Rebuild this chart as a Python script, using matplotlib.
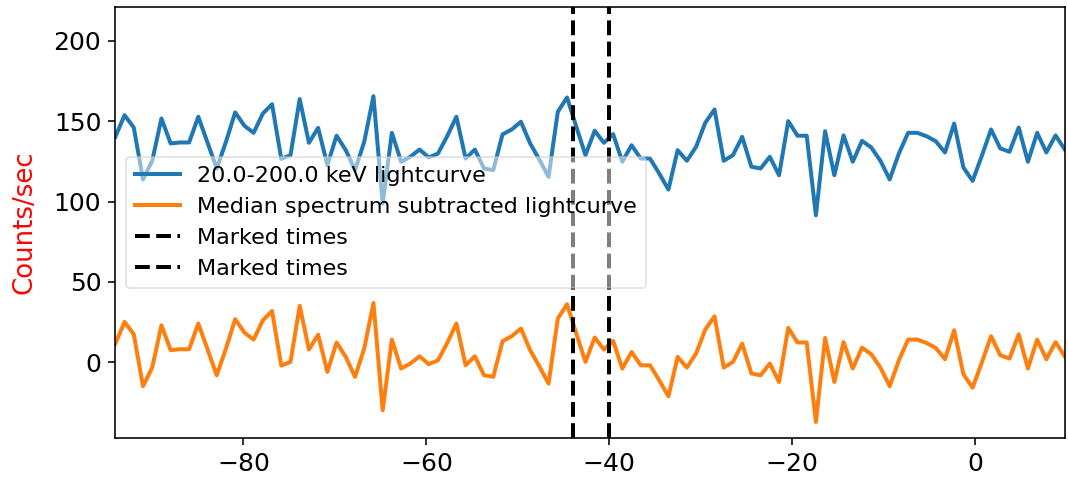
import numpy as np
import matplotlib
matplotlib.use("Agg")
import matplotlib.pyplot as plt

# time bins (s)
t_start = -94.0
t_step = 1.0078
n_bins = 104

lightcurve = [140.3, 153.8, 146.1, 113.8, 125.4, 151.7, 136.2, 136.8, 136.8, 152.8,
              136.7, 120.6, 137.2, 155.5, 147.2, 142.8, 154.8, 160.6, 126.6, 128.9,
              163.8, 136.6, 145.9, 122.7, 141.0, 132.0, 119.6, 137.2, 165.6, 98.8,
              142.8, 124.8, 127.9, 132.4, 127.5, 129.9, 140.7, 152.8, 126.8, 132.4,
              120.6, 119.6, 141.8, 144.9, 149.7, 136.2, 126.1, 115.4, 155.9, 164.8,
              146.7, 128.9, 144.1, 136.6, 142.0, 124.8, 135.1, 126.8, 126.8, 117.5,
              107.5, 132.0, 125.4, 134.1, 149.1, 157.3, 125.4, 128.9, 140.3, 121.7,
              120.6, 127.9, 116.4, 150.1, 141.0, 141.0, 91.5, 143.8, 116.4, 141.2,
              124.8, 137.8, 133.7, 125.4, 113.8, 129.9, 142.8, 142.8, 140.7, 137.6,
              130.6, 148.6, 121.2, 112.9, 128.5, 144.9, 133.1, 131.0, 146.1, 124.8,
              142.8, 130.6, 141.2, 132.4]

subtracted = [11.6, 25.1, 17.4, -14.9, -3.3, 23.0, 7.5, 8.1, 8.1, 24.1,
              8.0, -8.1, 8.5, 26.8, 18.5, 14.1, 26.1, 31.9, -2.1, 0.2,
              35.1, 7.9, 17.2, -6.0, 12.3, 3.3, -9.1, 8.5, 36.9, -29.9,
              14.1, -3.9, -0.8, 3.7, -1.2, 1.2, 12.0, 24.1, -1.9, 3.7,
              -8.1, -9.1, 13.1, 16.2, 21.0, 7.5, -2.6, -13.3, 27.2, 36.1,
              18.0, 0.2, 15.4, 7.9, 13.3, -3.9, 6.4, -1.9, -1.9, -11.2,
              -21.2, 3.3, -3.3, 5.4, 20.4, 28.6, -3.3, 0.2, 11.6, -7.0,
              -8.1, -0.8, -12.3, 21.4, 12.3, 12.3, -37.2, 15.1, -12.3, 12.5,
              -3.9, 9.1, 5.0, -3.3, -14.9, 1.2, 14.1, 14.1, 12.0, 8.9,
              1.9, 19.9, -7.5, -15.8, -0.2, 16.2, 4.4, 2.3, 17.4, -3.9,
              14.1, 1.9, 12.5, 3.7]

marked_times = [-44.0, -40.0]

labels = ["20.0-200.0 keV lightcurve", "Median spectrum subtracted lightcurve",
          "Marked times", "Marked times"]

times = t_start + t_step * np.arange(n_bins)

plt.rcParams['font.size'] = 12.5
fig = plt.figure(figsize=(1068 / 144, 480 / 144), dpi=144)
ax = fig.add_axes([0.108, 0.088, 0.889, 0.897])

ax.plot(times, lightcurve, color='#1f77b4', linewidth=2.0, label=labels[0])
ax.plot(times, subtracted, color='#ff7f0e', linewidth=2.0, label=labels[1])
for mt, lab in zip(marked_times, labels[2:]):
    ax.axvline(mt, color='k', linestyle='--', linewidth=2.0, label=lab)

ax.set_xlim(times[0], times[-1])
ax.set_ylim(-47, 221)
ax.set_yticks([0, 50, 100, 150, 200])
ax.set_xticks([-80, -60, -40, -20, 0])
ax.set_ylabel("Counts/sec", color='red', fontsize=13, labelpad=8)
ax.legend(loc='center left', fontsize=11.1, framealpha=0.5)

fig.savefig("out.png", dpi=144)
